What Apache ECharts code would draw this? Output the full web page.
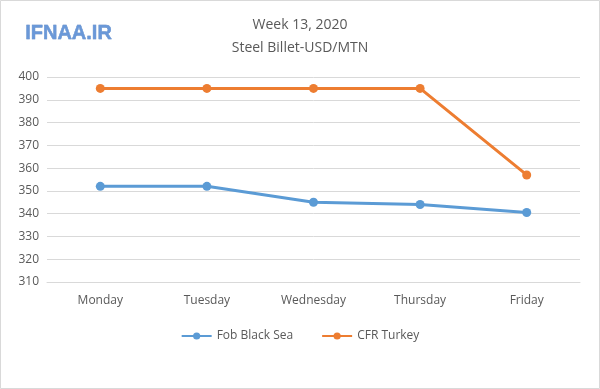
<!DOCTYPE html>
<html><head><meta charset="utf-8">
<script src="https://cdn.jsdelivr.net/npm/echarts@6/dist/echarts.min.js"></script>
<style>html,body{margin:0;padding:0;background:#fff}#c{width:600px;height:389px}</style>
</head><body><div id="c"></div>
<script>
const categories = ['Monday','Tuesday','Wednesday','Thursday','Friday'];
const fobBlackSea = [352, 352, 345, 344, 340.5];
const cfrTurkey = [395, 395, 395, 395, 357];
const yTicks = {min: 310, max: 400, interval: 10};

const chart = echarts.init(document.getElementById('c'));
const font = 'Open Sans, Liberation Sans, sans-serif';
chart.setOption({
  animation: false,
  backgroundColor: '#fff',
  title: {
    text: 'Week 13, 2020\nSteel Billet-USD/MTN',
    left: 'center', top: 9,
    textStyle: {color: '#595959', fontSize: 14, fontWeight: 'normal', fontFamily: font, lineHeight: 23}
  },
  graphic: [
    {type: 'rect', shape: {x: 0.5, y: 0.5, width: 599, height: 388}, style: {fill: 'none', stroke: '#d9d9d9', lineWidth: 1}, silent: true},
    {type: 'text', left: 25, top: 23, style: {text: 'IFNAA.IR', fill: '#6a98d8', font: 'bold 20px Liberation Sans, sans-serif', shadowColor: 'rgba(40,60,120,0.5)', shadowBlur: 2, shadowOffsetX: 1, shadowOffsetY: 1, stroke: '#3e6fb5', lineWidth: 0.4}}
  ],
  legend: {
    bottom: 42, left: 'center', itemGap: 28, itemWidth: 30, itemHeight: 9,
    textStyle: {color: '#595959', fontSize: 12, fontFamily: font},
    data: ['Fob Black Sea', 'CFR Turkey']
  },
  grid: {left: 47, right: 20, top: 77, bottom: 107, containLabel: false},
  xAxis: {
    type: 'category', data: categories, boundaryGap: true,
    axisLine: {show: true, lineStyle: {color: '#d9d9d9'}},
    axisTick: {show: false},
    axisLabel: {color: '#595959', fontSize: 12, fontFamily: font, margin: 13}
  },
  yAxis: {
    type: 'value', min: yTicks.min, max: yTicks.max, interval: yTicks.interval,
    axisLine: {show: false}, axisTick: {show: false},
    axisLabel: {color: '#595959', fontSize: 12, fontFamily: font, margin: 8},
    splitLine: {lineStyle: {color: '#d9d9d9'}}
  },
  series: [
    {name: 'Fob Black Sea', type: 'line', data: fobBlackSea, color: '#5b9bd5', symbol: 'circle', symbolSize: 9, lineStyle: {width: 3}},
    {name: 'CFR Turkey', type: 'line', data: cfrTurkey, color: '#ed7d31', symbol: 'circle', symbolSize: 9, lineStyle: {width: 3}}
  ]
});
</script></body></html>
